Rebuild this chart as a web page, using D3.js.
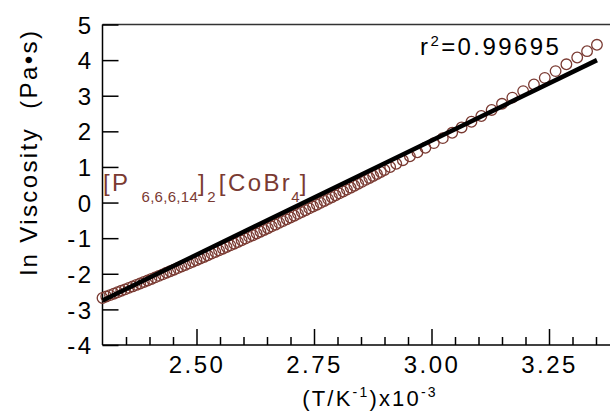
<!DOCTYPE html>
<html>
<head>
<meta charset="utf-8">
<script src="https://cdn.jsdelivr.net/npm/d3@7"></script>
<style>
  html, body { margin: 0; padding: 0; background: #fff; }
  svg { display: block; }
  text { font-family: "Liberation Sans", Arial, sans-serif; letter-spacing: 0.1em; }
  tspan.sub { letter-spacing: 0.02em; }
</style>
</head>
<body>
<svg id="chart" width="610" height="411"></svg>
<script>
// ---- data ----
const invT = [
  2.300,2.308,2.316,2.324,2.332,2.340,2.348,2.356,2.364,2.372,
  2.380,2.388,2.396,2.404,2.412,2.420,2.428,2.436,2.444,2.452,
  2.460,2.468,2.476,2.484,2.492,2.500,2.508,2.516,2.524,2.532,
  2.540,2.548,2.556,2.564,2.572,2.580,2.588,2.596,2.604,2.612,
  2.620,2.628,2.636,2.644,2.652,2.660,2.668,2.676,2.684,2.692,
  2.700,2.708,2.716,2.724,2.732,2.740,2.748,2.756,2.764,2.772,
  2.780,2.788,2.796,2.804,2.812,2.820,2.828,2.836,2.844,2.852,
  2.860,2.868,2.876,2.884,2.892,2.900,
  2.912,2.925,2.939,2.954,2.970,2.987,3.005,3.024,3.044,3.064,
  3.085,3.106,3.128,3.150,3.172,3.195,3.218,3.241,3.264,3.287,
  3.310,3.331,3.352
];
const lnVisc = [
  -2.680,-2.640,-2.600,-2.560,-2.519,-2.478,-2.438,-2.396,-2.355,-2.313,
  -2.272,-2.229,-2.187,-2.145,-2.102,-2.059,-2.016,-1.973,-1.929,-1.885,
  -1.841,-1.797,-1.753,-1.708,-1.663,-1.618,-1.573,-1.527,-1.481,-1.435,
  -1.389,-1.343,-1.296,-1.249,-1.202,-1.155,-1.108,-1.060,-1.012,-0.964,
  -0.916,-0.867,-0.818,-0.769,-0.720,-0.670,-0.621,-0.571,-0.521,-0.471,
  -0.420,-0.369,-0.318,-0.267,-0.216,-0.164,-0.112,-0.060,-0.008,0.045,
  0.097,0.150,0.203,0.257,0.310,0.364,0.418,0.472,0.527,0.581,
  0.636,0.691,0.747,0.802,0.858,0.914,
  0.998,1.090,1.190,1.298,1.413,1.537,1.669,1.809,1.959,2.109,
  2.269,2.430,2.601,2.773,2.946,3.130,3.315,3.502,3.691,3.882,
  4.074,4.251,4.430
];
const fitX = [2.300, 3.352];
const fitY = [-2.75, 4.00];
const yTicks = [-4,-3,-2,-1,0,1,2,3,4,5];
const xMajorTicks = [2.50, 2.75, 3.00, 3.25];
const xMinorTicks = [2.35,2.40,2.45,2.55,2.60,2.65,2.70,2.80,2.85,2.90,2.95,3.05,3.10,3.15,3.20,3.30,3.35];
const rSquared = "0.99695";

// ---- chart ----
const svg = d3.select("#chart");
const x = d3.scaleLinear().domain([2.30, 3.40]).range([102.5, 619.5]);
const y = d3.scaleLinear().domain([-4, 5]).range([345, 24.5]);
const brown = "#7a3a32";

// top frame line
svg.append("line")
  .attr("x1", x(2.30)).attr("x2", 610)
  .attr("y1", y(5)).attr("y2", y(5))
  .attr("stroke", "#333").attr("stroke-width", 1.5);

// x axis (ticks pointing inward / up)
const xAxisMajor = d3.axisBottom(x).tickValues(xMajorTicks)
  .tickSize(-16).tickFormat(d3.format(".2f"));
const gx = svg.append("g").attr("transform", `translate(0,${y(-4)})`).call(xAxisMajor);
gx.select(".domain").attr("d", `M${x(2.30)},0H610`).attr("stroke", "#000").attr("stroke-width", 1.5);
gx.selectAll(".tick line").attr("stroke", "#000").attr("stroke-width", 1.5);
gx.selectAll(".tick text").attr("font-size", 24).attr("fill", "#000")
  .attr("font-family", "Liberation Sans, Arial, sans-serif").attr("dy", "0").attr("y", 28);

const gxm = svg.append("g").attr("transform", `translate(0,${y(-4)})`)
  .call(d3.axisBottom(x).tickValues(xMinorTicks).tickSize(-8).tickFormat(""));
gxm.select(".domain").remove();
gxm.selectAll(".tick line").attr("stroke", "#000").attr("stroke-width", 1.5);

// y axis (ticks pointing inward / right)
const gy = svg.append("g").attr("transform", `translate(${x(2.30)},0)`)
  .call(d3.axisLeft(y).tickValues(yTicks).tickSize(-16).tickFormat(d => String(d)));
gy.select(".domain").attr("d", `M0,${y(5)}V${y(-4)}`).attr("stroke", "#000").attr("stroke-width", 1.5);
gy.selectAll(".tick line").attr("stroke", "#000").attr("stroke-width", 1.5);
gy.selectAll(".tick text").attr("font-size", 24).attr("fill", "#000")
  .attr("font-family", "Liberation Sans, Arial, sans-serif")
  .attr("x", -9).attr("dy", "0.36em");

// data points
svg.append("g").selectAll("circle")
  .data(d3.zip(invT, lnVisc))
  .join("circle")
  .attr("cx", d => x(d[0])).attr("cy", d => y(d[1]))
  .attr("r", 5.3)
  .attr("fill", "none").attr("stroke", brown).attr("stroke-width", 1.3);

// fit line
svg.append("line")
  .attr("x1", x(fitX[0])).attr("y1", y(fitY[0]))
  .attr("x2", x(fitX[1])).attr("y2", y(fitY[1]))
  .attr("stroke", "#000").attr("stroke-width", 4.5);

// r^2 annotation
const rt = svg.append("text").attr("x", 420).attr("y", 55).attr("font-size", 24).attr("fill", "#000");
rt.append("tspan").text("r");
rt.append("tspan").attr("font-size", 15).attr("dy", -9).text("2");
rt.append("tspan").attr("dy", 9).text("=" + rSquared);

// compound label
const cl = svg.append("text").attr("x", 103).attr("y", 191).attr("font-size", 24).attr("fill", brown);
cl.append("tspan").text("[P");
cl.append("tspan").attr("class", "sub").attr("font-size", 15).attr("dx", 11).attr("dy", 11).text("6,6,6,14");
cl.append("tspan").attr("dy", -11).attr("dx", 0).text("]");
cl.append("tspan").attr("class", "sub").attr("font-size", 15).attr("dy", 11).text("2");
cl.append("tspan").attr("dy", -11).attr("dx", 3).text("[CoBr");
cl.append("tspan").attr("class", "sub").attr("font-size", 15).attr("dy", 11).attr("dx", -1).text("4");
cl.append("tspan").attr("dy", -11).text("]");

// x axis title
const xt = svg.append("text").attr("x", 370).attr("y", 406).attr("text-anchor", "middle")
  .attr("font-size", 22).attr("fill", "#000");
xt.append("tspan").text("(T/K");
xt.append("tspan").attr("font-size", 14).attr("dy", -9).text("-1");
xt.append("tspan").attr("dy", 9).text(")x10");
xt.append("tspan").attr("font-size", 14).attr("dy", -9).text("-3");

// y axis title
svg.append("text")
  .attr("transform", "translate(37,152) rotate(-90)")
  .attr("text-anchor", "middle").attr("font-size", 24).attr("fill", "#000")
  .attr("xml:space", "preserve")
  .text("ln Viscosity  (Pa\u2022s)");
</script>
</body>
</html>
